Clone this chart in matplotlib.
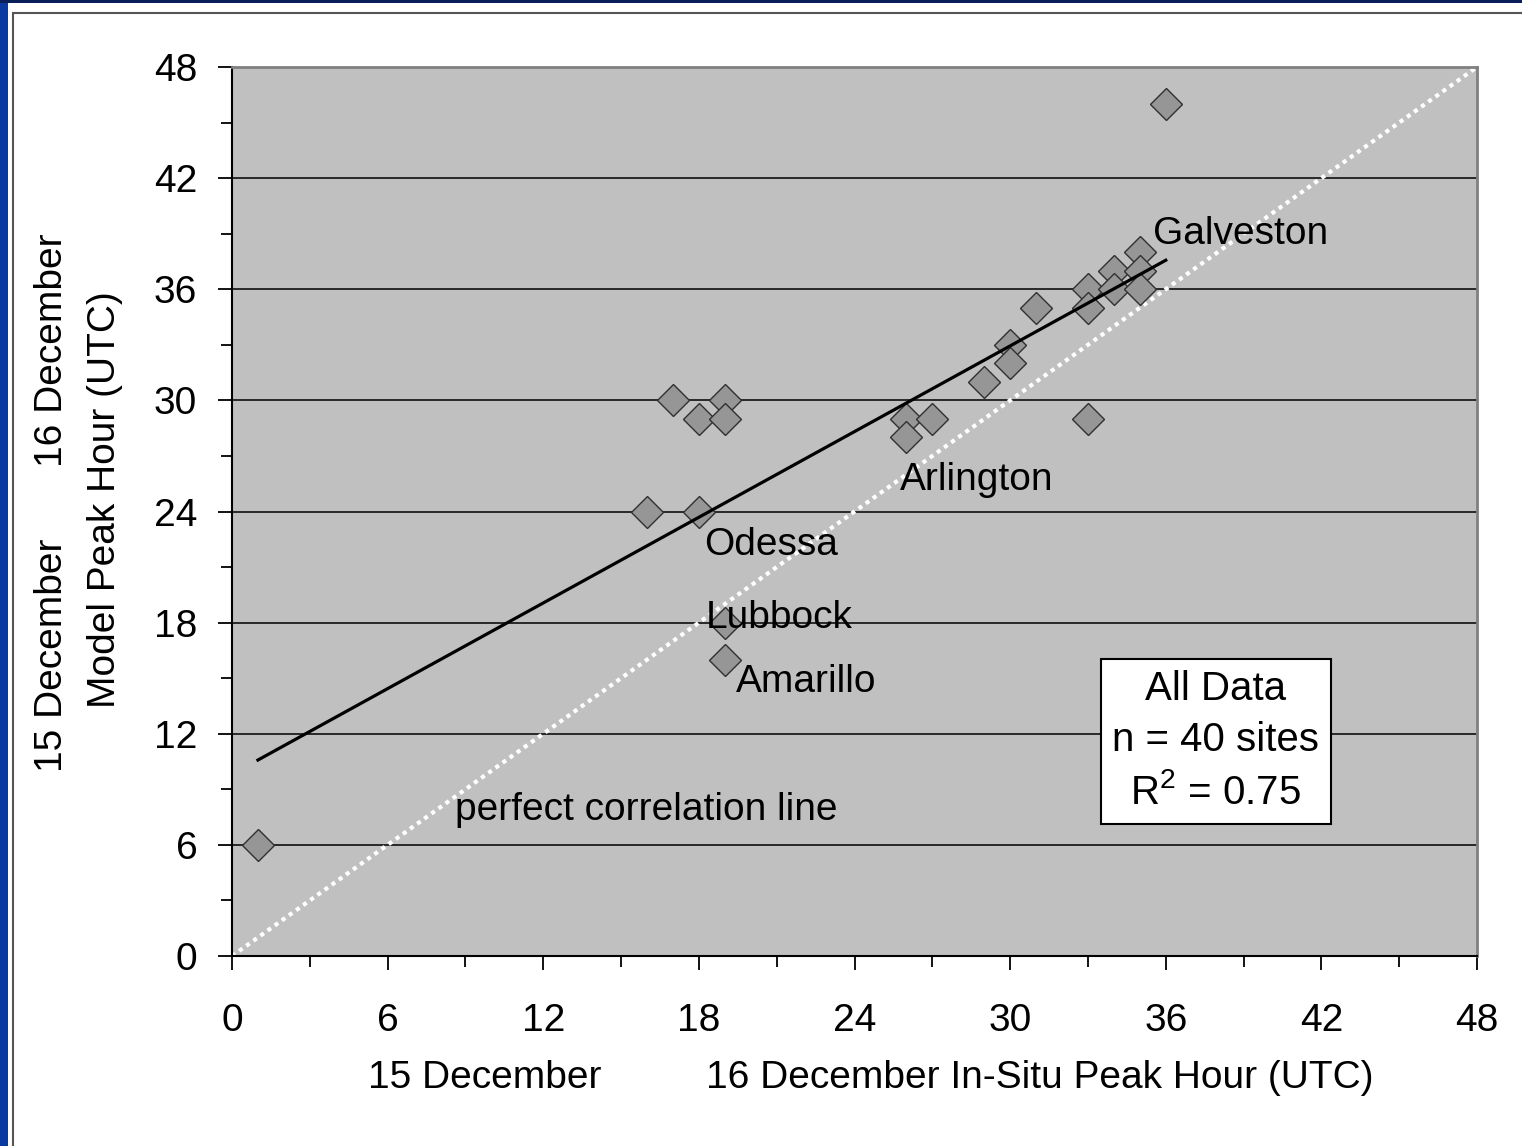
import numpy as np
import matplotlib
matplotlib.use("Agg")
import matplotlib.pyplot as plt
from matplotlib.patches import Rectangle
from matplotlib.ticker import MultipleLocator

plt.rcParams["font.family"] = ["Liberation Sans", "DejaVu Sans"]
plt.rcParams["mathtext.fontset"] = "custom"
plt.rcParams["mathtext.rm"] = "Liberation Sans"
plt.rcParams["mathtext.it"] = "Liberation Sans:italic"

# in-situ peak hour (x) vs model peak hour (y), hours since 15 Dec 00 UTC
insitu = [1, 16, 18, 17, 18, 19, 19, 19, 19, 26, 26, 27, 29, 30, 30,
          31, 33, 33, 33, 34, 34, 35, 35, 35, 36]
model = [6, 24, 24, 30, 29, 30, 29, 18, 16, 29, 28, 29, 31, 33, 32,
         35, 36, 35, 29, 37, 36, 38, 37, 36, 46]

# linear trendline
TREND_SLOPE = 0.771
TREND_INTERCEPT = 9.81

# site labels: (name, x, y)
SITE_LABELS = [
    ("Galveston", 35.5, 39.0),
    ("Arlington", 25.75, 25.7),
    ("Odessa", 18.2, 22.2),
    ("Lubbock", 18.27, 18.25),
    ("Amarillo", 19.43, 14.8),
]

TICKS = [0, 6, 12, 18, 24, 30, 36, 42, 48]
STATS_TEXT = "All Data\nn = 40 sites\nR$^{2}$ = 0.75"

FS = 28

W, H = 1522, 1146
fig = plt.figure(figsize=(W / 100, H / 100), dpi=100)
fig.patch.set_facecolor("white")

# ── slide frame ──────────────────────────────────────────
fig.patches.append(Rectangle((0, 0), 8 / W, 1, transform=fig.transFigure,
                             facecolor="#0a3aa0", edgecolor="none", zorder=0))
fig.patches.append(Rectangle((0, 1 - 3 / H), 1, 3 / H, transform=fig.transFigure,
                             facecolor="#0a1f5a", edgecolor="none", zorder=0))
fig.patches.append(Rectangle((13 / W, -0.01), 1.02, 1 - 13 / H + 0.01,
                             transform=fig.transFigure, facecolor="none",
                             edgecolor="#555555", linewidth=1.5, zorder=0))

ax = fig.add_axes([232 / W, 1 - 956 / H, (1477 - 232) / W, (956 - 67) / H])
ax.set_facecolor("#c0c0c0")
ax.set_xlim(0, 48)
ax.set_ylim(0, 48)

for yv in TICKS[1:-1]:
    ax.axhline(yv, color="black", linewidth=1.1, zorder=1)

# perfect correlation line
ax.plot([TICKS[0], TICKS[-1]], [TICKS[0], TICKS[-1]], color="white",
        linewidth=3, linestyle=(0, (1, 1.1)), zorder=2)

# trendline over the data range
xt = np.array([min(insitu), max(insitu)])
ax.plot(xt, TREND_SLOPE * xt + TREND_INTERCEPT, color="black",
        linewidth=2.3, zorder=4)

ax.plot(insitu, model, linestyle="none", marker="D", markersize=16,
        markerfacecolor="#969696", markeredgecolor="#303030",
        markeredgewidth=1.0, zorder=3)

for name, x, y in SITE_LABELS:
    ax.text(x, y, name, fontsize=FS, ha="left", va="center", zorder=5)
ax.text(8.6, 7.88, "perfect correlation line", fontsize=FS, ha="left",
        va="center", zorder=5)

ax.text(37.93, 11.6, STATS_TEXT, fontsize=29, ha="center", va="center",
        linespacing=1.45, zorder=6,
        bbox=dict(boxstyle="square,pad=0.28", facecolor="white",
                  edgecolor="black", linewidth=1.5))

# ── axes styling ─────────────────────────────────────────
ax.set_xticks(TICKS)
ax.set_yticks(TICKS)
ax.xaxis.set_minor_locator(MultipleLocator(3))
ax.yaxis.set_minor_locator(MultipleLocator(3))
ax.tick_params(which="major", direction="out", length=10, width=1.3,
               color="black", labelsize=FS)
ax.tick_params(which="minor", direction="out", length=8, width=1.3,
               color="black")
ax.tick_params(axis="x", which="major", pad=24)
ax.tick_params(axis="y", which="major", pad=15)

for side in ("left", "bottom"):
    ax.spines[side].set_color("black")
    ax.spines[side].set_linewidth(1.5)
for side in ("top", "right"):
    ax.spines[side].set_color("#808080")
    ax.spines[side].set_linewidth(2)

# axis titles, split by day like the original slide
fig.text(485 / W, 1 - 1078 / H, "15 December", fontsize=FS,
         ha="center", va="center")
fig.text(1040 / W, 1 - 1078 / H, "16 December In-Situ Peak Hour (UTC)",
         fontsize=FS, ha="center", va="center")
fig.text(52 / W, 1 - 655 / H, "15 December", fontsize=FS, rotation=90,
         ha="center", va="center")
fig.text(52 / W, 1 - 350 / H, "16 December", fontsize=FS, rotation=90,
         ha="center", va="center")
fig.text(105 / W, 1 - 500 / H, "Model Peak Hour (UTC)", fontsize=FS,
         rotation=90, ha="center", va="center")

plt.savefig("out.png", dpi=100, facecolor="white")
plt.close()
